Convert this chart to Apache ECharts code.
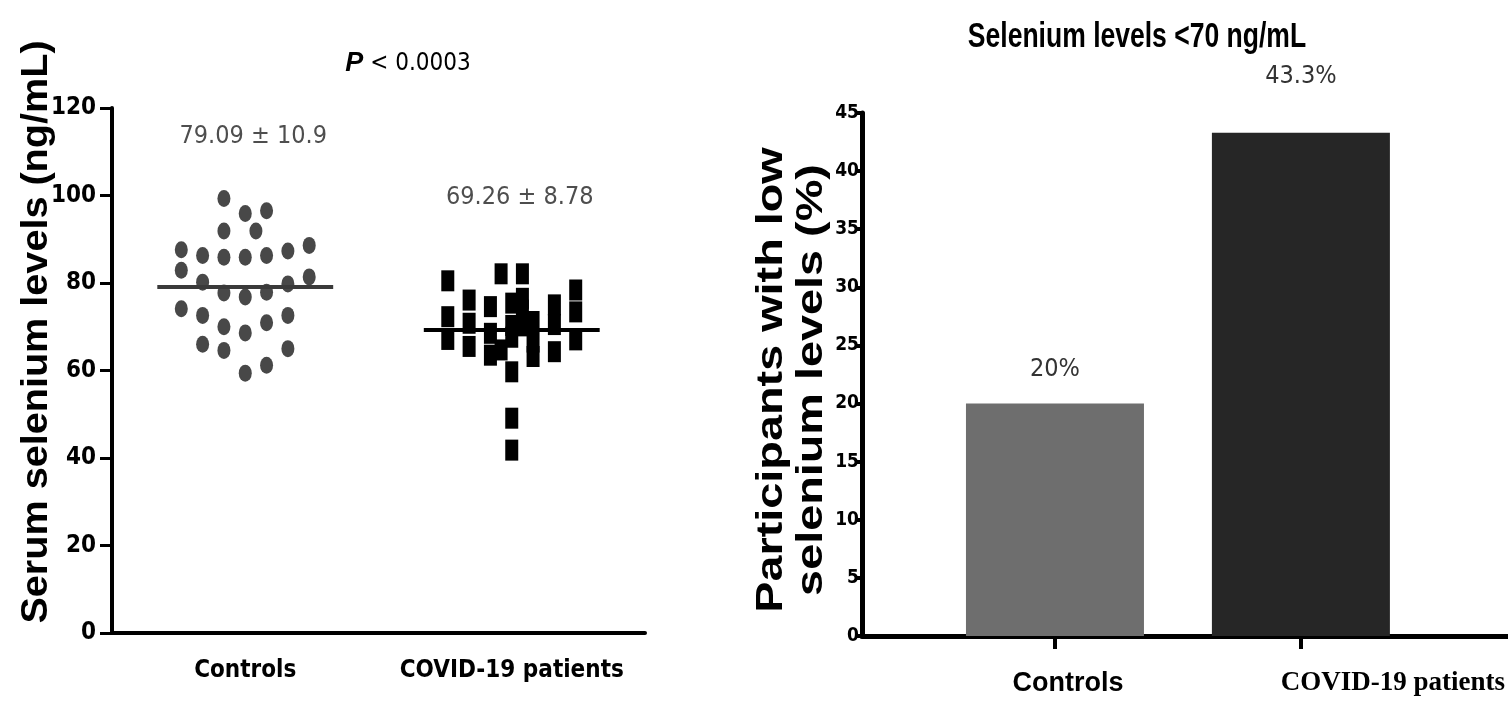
<!DOCTYPE html>
<html>
<head>
<meta charset="utf-8">
<title>Serum selenium</title>
<script src="https://cdn.jsdelivr.net/npm/echarts@6/dist/echarts.min.js"></script>
<style>
  html, body { margin: 0; padding: 0; background: #fff; }
  #main { width: 1508px; height: 707px; }
</style>
</head>
<body>
<div id="main"></div>
<script>
/* data */
const groups = ['Controls', 'COVID-19 patients'];

// serum selenium (ng/mL), one value per participant, with its jitter column
const controlsSe = [87.6, 82.9, 74.1, 86.3, 80.2, 72.6, 66.0, 99.3, 91.9, 85.9, 77.7, 70.0, 64.6,
  95.9, 85.9, 76.8, 68.6, 59.4, 91.9, 96.5, 86.3, 77.9, 70.9, 61.2, 87.3, 79.8, 72.6, 65.0, 88.6, 81.4];
const controlsCol = [-3, -3, -3, -2, -2, -2, -2, -1, -1, -1, -1, -1, -1,
  0, 0, 0, 0, 0, 0.5, 1, 1, 1, 1, 1, 2, 2, 2, 2, 3, 3];

const covidSe = [80.5, 72.3, 67.1, 76.1, 70.8, 65.5, 74.6, 68.5, 63.5, 82.1, 64.7,
  75.4, 70.3, 67.6, 59.7, 49.1, 41.8, 82.1, 76.5, 73.8, 70.2, 71.2, 66.5, 63.2,
  75.0, 70.5, 64.3, 78.4, 73.4, 67.0];
const covidCol = [-3, -3, -3, -2, -2, -2, -1, -1, -1, -0.5, -0.5,
  0, 0, 0, 0, 0, 0, 0.5, 0.5, 0.5, 0.5, 1, 1, 1,
  2, 2, 2, 3, 3, 3];

const groupMean = [79.09, 69.26];
const groupSd = ['10.9', '8.78'];
const meanLabelY = [113.5, 99.5];   // height of the mean ± sd text (ng/mL scale)

// share with selenium < 70 ng/mL (%)
const lowPct = [20, 43.3];
const lowPctLabel = ['20%', '43.3%'];

const COND = '"DejaVu Sans Condensed", "Liberation Sans", sans-serif';
const SANS = '"Liberation Sans", Arial, sans-serif';
const SERIF = '"Liberation Serif", "Times New Roman", serif';

const colStep = 0.08;     // jitter step, in category units
const halfMean = 0.33;    // half length of the mean bar

function points(values, cols, center) {
  return values.map((v, i) => [center + cols[i] * colStep, v]);
}

var chart = echarts.init(document.getElementById('main'), null, { renderer: 'canvas' });

var option = {
  backgroundColor: '#fff',
  animation: false,
  grid: [
    { left: 112, right: 863, top: 108, bottom: 74 },   // scatter
    { left: 862, right: 0, top: 113, bottom: 71 },     // bar frame
    { left: 932, right: 84, top: 113, bottom: 71 }     // bars
  ],
  xAxis: [{
    gridIndex: 0, type: 'category', data: groups,
    axisLine: { lineStyle: { color: '#000', width: 4 } },
    axisTick: { alignWithLabel: true, length: 10, lineStyle: { color: '#000', width: 3 } },
    axisLabel: { interval: 0, fontFamily: COND, fontWeight: 'bold', fontSize: 24, color: '#000', margin: 26 }
  }, {
    gridIndex: 0, type: 'value', min: 0, max: 2, show: false
  }, {
    gridIndex: 1, type: 'value', min: 0, max: 1,
    axisLine: { show: true, onZero: false, lineStyle: { color: '#000', width: 5 } },
    axisTick: { show: false }, axisLabel: { show: false }, splitLine: { show: false }
  }, {
    gridIndex: 2, type: 'category', data: groups,
    axisLine: { show: false },
    axisTick: { show: true, alignWithLabel: true, length: 13, lineStyle: { color: '#000', width: 4 } },
    axisLabel: {
      interval: 0, margin: 34,
      formatter: function (v, i) { return i === 0 ? '{a|' + v + '}' : '{b|' + v + '}'; },
      rich: {
        a: { fontFamily: SANS, fontWeight: 'bold', fontSize: 27, color: '#000', padding: [0, 0, 0, 26] },
        b: { fontFamily: SERIF, fontWeight: 'bold', fontSize: 27, color: '#000', padding: [0, 0, 0, 184] }
      }
    }
  }],
  yAxis: [{
    gridIndex: 0, type: 'value', min: 0, max: 120, interval: 20,
    axisLine: { show: true, lineStyle: { color: '#000', width: 4 } },
    axisTick: { show: true, length: 12, lineStyle: { color: '#000', width: 3 } },
    axisLabel: { fontFamily: COND, fontWeight: 'bold', fontSize: 24, color: '#000', margin: 16 },
    splitLine: { show: false }
  }, {
    gridIndex: 1, type: 'value', min: 0, max: 45, interval: 5,
    axisLine: { show: true, lineStyle: { color: '#000', width: 5 } },
    axisTick: { show: true, length: 7, lineStyle: { color: '#000', width: 4 } },
    axisLabel: { fontFamily: COND, fontWeight: 'bold', fontSize: 19, color: '#000', margin: 3 },
    splitLine: { show: false }
  }, {
    gridIndex: 2, type: 'value', min: 0, max: 45, show: false
  }],
  graphic: [{
    // left axis title
    type: 'text', x: 37, y: 332, rotation: Math.PI / 2, scaleX: 1.1,
    style: {
      text: 'Serum selenium levels (ng/mL)', align: 'center', verticalAlign: 'middle',
      font: 'bold 36px ' + SANS, fill: '#000'
    }
  }, {
    type: 'text', x: 408, y: 64,
    style: {
      text: '{p|P} < 0.0003', align: 'center', verticalAlign: 'middle',
      font: '24px ' + COND, fill: '#000',
      rich: { p: { fontFamily: SANS, fontStyle: 'italic', fontWeight: 'bold', fontSize: 27, fill: '#000' } }
    }
  }, {
    // right title
    type: 'text', x: 1137, y: 37, scaleX: 0.78, scaleY: 1.05,
    style: {
      text: 'Selenium levels <70 ng/mL', align: 'center', verticalAlign: 'middle',
      font: 'bold 34px ' + SANS, fill: '#000'
    }
  }, {
    // right axis title
    type: 'text', x: 792, y: 380, rotation: Math.PI / 2, scaleX: 1.3,
    style: {
      text: 'Participants with low\nselenium levels (%)', align: 'center', verticalAlign: 'middle',
      font: 'bold 36px ' + SANS, lineHeight: 40, fill: '#000'
    }
  }],
  series: [{
    name: 'Controls', type: 'scatter', xAxisIndex: 1, yAxisIndex: 0,
    symbol: 'circle', symbolSize: [13, 17],
    itemStyle: { color: '#484848', opacity: 1 },
    data: points(controlsSe, controlsCol, 0.5), z: 3
  }, {
    name: 'COVID-19 patients', type: 'scatter', xAxisIndex: 1, yAxisIndex: 0,
    symbol: 'rect', symbolSize: [13, 21],
    itemStyle: { color: '#000', opacity: 1 },
    data: points(covidSe, covidCol, 1.5), z: 3
  }, {
    name: 'mean controls', type: 'line', xAxisIndex: 1, yAxisIndex: 0, symbol: 'none', z: 4,
    lineStyle: { color: '#3a3a3a', width: 4 },
    data: [[0.5 - halfMean, groupMean[0]], [0.5 + halfMean, groupMean[0]]]
  }, {
    name: 'mean covid', type: 'line', xAxisIndex: 1, yAxisIndex: 0, symbol: 'none', z: 4,
    lineStyle: { color: '#000', width: 4 },
    data: [[1.5 - halfMean, groupMean[1]], [1.5 + halfMean, groupMean[1]]]
  }, {
    name: 'mean labels', type: 'scatter', xAxisIndex: 1, yAxisIndex: 0, symbolSize: 0,
    label: {
      show: true, position: 'inside', offset: [8, 0],
      fontFamily: COND, fontSize: 25, color: '#222',
      formatter: function (p) { return groupMean[p.dataIndex].toFixed(2) + ' \u00b1 ' + groupSd[p.dataIndex]; }
    },
    data: [[0.5, meanLabelY[0]], [1.5, meanLabelY[1]]]
  }, {
    name: 'low selenium', type: 'bar', xAxisIndex: 3, yAxisIndex: 2,
    barWidth: 178,
    data: lowPct.map((v, i) => ({
      value: v,
      itemStyle: { color: i === 0 ? '#6e6e6e' : '#262626' },
      label: { distance: i === 0 ? 22 : 44 }
    })),
    label: {
      show: true, position: 'top',
      fontFamily: COND, fontSize: 25, color: '#333',
      formatter: function (p) { return lowPctLabel[p.dataIndex]; }
    }
  }]
};

chart.setOption(option);
</script>
</body>
</html>
